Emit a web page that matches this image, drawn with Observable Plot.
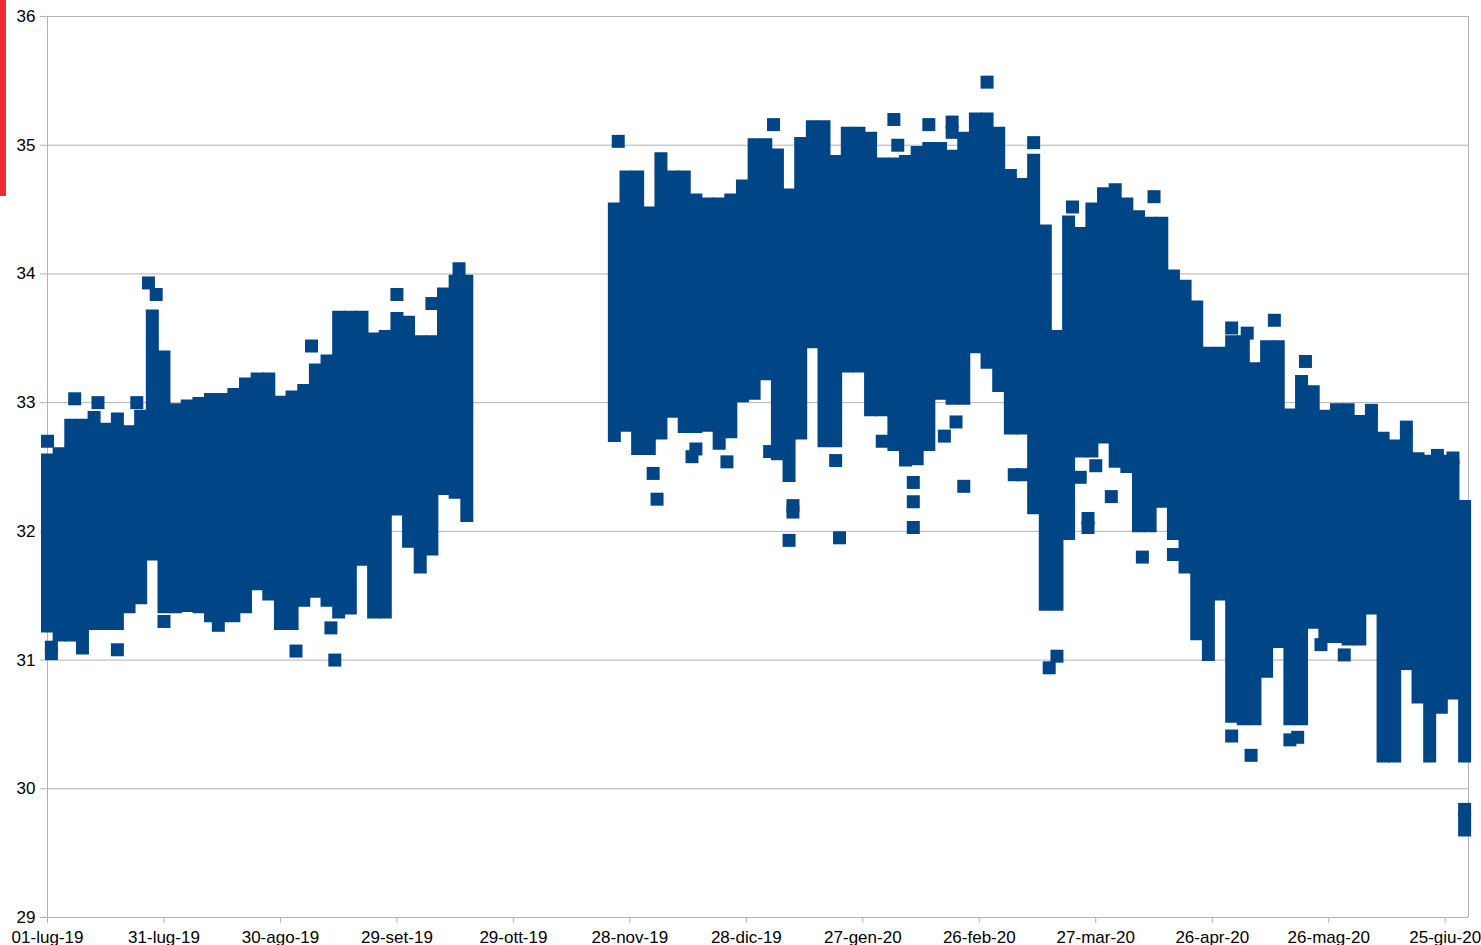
<!DOCTYPE html>
<html>
<head>
<meta charset="utf-8">
<script src="https://cdn.jsdelivr.net/npm/d3@7"></script>
<script src="https://cdn.jsdelivr.net/npm/@observablehq/plot@0.6"></script>
<style>
  html, body { margin: 0; padding: 0; background: #fff; overflow: hidden; }
  #chart { position: relative; width: 1481px; height: 945px; }
  #chart svg { position: absolute; left: 0; top: 0; }
  #bar { position: absolute; left: 0; top: 0; width: 6px; height: 196px; background: #ee2b2e; z-index: 2; }
  svg [aria-label$="axis"] line,
  svg [aria-label$="axis tick"] path,
  svg [aria-label$="axis"] path.domain { stroke: #b3b3b3; }
</style>
</head>
<body>
<div id="chart"><div id="bar"></div></div>
<script>
// ---- Data (per ~3-day window: lowest and highest reading) ----
const dayDates = [
  "2019-07-01","2019-07-04","2019-07-07","2019-07-10","2019-07-13","2019-07-16","2019-07-19","2019-07-22",
  "2019-07-25","2019-07-28","2019-07-31","2019-08-03","2019-08-06","2019-08-09","2019-08-12","2019-08-15",
  "2019-08-18","2019-08-21","2019-08-24","2019-08-27","2019-08-30","2019-09-02","2019-09-05","2019-09-08",
  "2019-09-11","2019-09-14","2019-09-17","2019-09-20","2019-09-23","2019-09-26","2019-09-29","2019-10-02",
  "2019-10-05","2019-10-08","2019-10-11","2019-10-14","2019-10-17",
  "2019-11-24","2019-11-27","2019-11-30","2019-12-03","2019-12-06","2019-12-09","2019-12-12","2019-12-15",
  "2019-12-18","2019-12-21","2019-12-24","2019-12-27","2019-12-30","2020-01-02","2020-01-05","2020-01-08",
  "2020-01-11","2020-01-14","2020-01-17","2020-01-20","2020-01-23","2020-01-26","2020-01-29","2020-02-01",
  "2020-02-04","2020-02-07","2020-02-10","2020-02-13","2020-02-16","2020-02-19","2020-02-22","2020-02-25",
  "2020-02-28","2020-03-02","2020-03-05","2020-03-08","2020-03-11","2020-03-14","2020-03-17","2020-03-20",
  "2020-03-23","2020-03-26","2020-03-29","2020-04-01","2020-04-04","2020-04-07","2020-04-10","2020-04-13",
  "2020-04-16","2020-04-19","2020-04-22","2020-04-25","2020-04-28","2020-05-01","2020-05-04","2020-05-07",
  "2020-05-10","2020-05-13","2020-05-16","2020-05-19","2020-05-22","2020-05-25","2020-05-28","2020-05-31",
  "2020-06-03","2020-06-06","2020-06-09","2020-06-12","2020-06-15","2020-06-18","2020-06-21","2020-06-24",
  "2020-06-27","2020-06-30"
];
const dayLow = [
  31.26,31.19,31.19,31.09,31.28,31.28,31.28,31.41,31.48,31.82,31.41,31.41,31.42,31.41,31.34,31.34,
  31.34,31.41,31.59,31.51,31.28,31.28,31.46,31.53,31.46,31.37,31.40,31.78,31.37,31.37,32.17,31.92,
  31.72,31.86,32.33,32.30,32.12,
  32.74,32.82,32.64,32.64,32.76,32.93,32.81,32.81,32.82,32.68,32.77,33.05,33.07,33.22,32.60,32.43,
  32.76,33.47,32.70,32.70,33.28,33.28,32.94,32.94,32.67,32.55,32.56,32.67,33.07,33.03,33.03,33.43,
  33.31,33.13,32.80,32.80,32.18,31.43,31.43,31.98,32.62,32.62,32.73,32.54,32.50,32.04,32.04,32.23,
  31.98,31.72,31.20,31.04,31.51,30.56,30.54,30.54,30.91,31.14,30.54,30.54,31.29,31.18,31.18,31.16,
  31.16,31.40,30.25,30.25,30.97,30.71,30.25,30.63,30.74,30.25
];
const dayHigh = [
  32.55,32.60,32.82,32.82,32.88,32.79,32.87,32.77,32.89,33.67,33.35,32.94,32.97,32.99,33.02,33.02,
  33.06,33.14,33.18,33.18,33.00,33.04,33.09,33.25,33.32,33.66,33.66,33.66,33.49,33.51,33.65,33.62,
  33.47,33.47,33.84,33.94,33.94,
  34.50,34.75,34.75,34.47,34.89,34.75,34.75,34.57,34.54,34.54,34.57,34.68,35.00,35.00,34.92,34.61,
  35.01,35.14,35.14,34.87,35.09,35.09,35.05,34.85,34.85,34.87,34.94,34.97,34.97,34.91,35.05,35.20,
  35.20,35.09,34.76,34.69,34.88,34.33,33.51,34.40,34.31,34.50,34.62,34.65,34.54,34.44,34.39,34.39,
  33.98,33.90,33.74,33.38,33.38,33.47,33.47,33.26,33.43,33.43,32.90,33.16,33.08,32.89,32.94,32.94,
  32.85,32.89,32.72,32.66,32.73,32.56,32.54,32.54,32.50,32.19
];

// isolated readings standing out of the band
const outDates = [
  "2019-07-01","2019-07-02","2019-07-02","2019-07-08","2019-07-14","2019-07-19","2019-07-24","2019-07-27",
  "2019-07-29","2019-07-31","2019-08-14","2019-09-03","2019-09-07","2019-09-12","2019-09-13","2019-09-29",
  "2019-10-08","2019-10-15",
  "2019-11-25","2019-12-04","2019-12-05","2019-12-14","2019-12-15","2019-12-23","2020-01-04","2020-01-03",
  "2020-01-09","2020-01-09","2020-01-08","2020-01-20","2020-01-21","2020-02-01","2020-02-04","2020-02-05",
  "2020-02-09","2020-02-09","2020-02-09","2020-02-13","2020-02-19","2020-02-19","2020-02-17","2020-02-20",
  "2020-02-22","2020-02-28","2020-03-06","2020-03-08","2020-03-11","2020-03-15","2020-03-17","2020-03-21",
  "2020-03-23","2020-03-25","2020-03-25","2020-03-27","2020-03-31","2020-04-08","2020-04-11","2020-04-16",
  "2020-05-01","2020-05-05","2020-05-01","2020-05-06","2020-05-12","2020-05-16","2020-05-18","2020-05-20",
  "2020-05-24","2020-05-30","2020-06-06","2020-06-15","2020-06-23","2020-06-27","2020-06-30","2020-06-30",
  "2020-06-30"
];
const outValues = [
  32.70,31.10,31.05,33.03,33.00,31.08,33.00,33.93,
  33.84,31.30,31.27,31.07,33.44,31.25,31.00,33.84,
  33.77,34.04,
  35.03,32.45,32.25,32.58,32.64,32.54,35.16,32.62,
  32.20,32.15,31.93,32.55,31.95,32.70,35.20,35.00,
  32.38,32.23,32.03,35.16,35.18,35.10,32.74,32.85,
  32.35,35.49,32.44,32.44,35.02,30.94,31.03,34.52,
  32.42,32.10,32.03,32.51,32.27,31.80,34.60,31.82,
  33.58,33.54,30.41,30.26,33.64,30.38,30.40,33.32,
  31.12,31.04,32.94,32.81,32.59,32.57,29.84,29.77,
  29.68
];

const yTicks = [29, 30, 31, 32, 33, 34, 35, 36];
const xTickDates = ["2019-07-01","2019-07-31","2019-08-30","2019-09-29","2019-10-29","2019-11-28",
  "2019-12-28","2020-01-27","2020-02-26","2020-03-27","2020-04-26","2020-05-26","2020-06-25"];
const xTickLabels = ["01-lug-19","31-lug-19","30-ago-19","29-set-19","29-ott-19","28-nov-19",
  "28-dic-19","27-gen-20","26-feb-20","27-mar-20","26-apr-20","26-mag-20","25-giu-20"];
const xDomain = ["2019-07-01", "2020-07-01"];

// ---- Build tables ----
const parse = d3.utcParse("%Y-%m-%d");
const days = dayDates.map((d, i) => ({date: parse(d), lo: dayLow[i], hi: dayHigh[i]}));
const outs = outDates.map((d, i) => ({date: parse(d), v: outValues[i]}));
const tickDates = xTickDates.map(parse);
const labelOf = new Map(tickDates.map((t, i) => [+t, xTickLabels[i]]));
const domain = xDomain.map(parse);

const blue = "#004586";
const grey = "#b3b3b3";

const chart = Plot.plot({
  width: 1481,
  height: 945,
  marginLeft: 47,
  marginRight: 13,
  marginTop: 16,
  marginBottom: 28,
  style: {
    fontFamily: "'Liberation Sans', Arial, sans-serif",
    fontSize: "17px",
    background: "transparent",
    color: "#000",
    overflow: "visible"
  },
  x: {type: "utc", domain, ticks: tickDates, tickFormat: d => labelOf.get(+d), tickSize: 6, tickPadding: 7, label: null},
  y: {domain: [29, 36], ticks: yTicks, tickFormat: d => String(d), tickSize: 7, tickPadding: 5, label: null},
  marks: [
    Plot.ruleY(yTicks, {stroke: grey, strokeWidth: 1}),
    Plot.ruleX(domain, {stroke: grey, strokeWidth: 1}),
    Plot.ruleX(days, {x: "date", y1: "lo", y2: "hi", stroke: blue, strokeWidth: 13, strokeLinecap: "square"}),
    Plot.dot(outs, {x: "date", y: "v", symbol: "square", r: 7.33, fill: blue, stroke: null})
  ]
});
document.getElementById("chart").appendChild(chart);
</script>
</body>
</html>
